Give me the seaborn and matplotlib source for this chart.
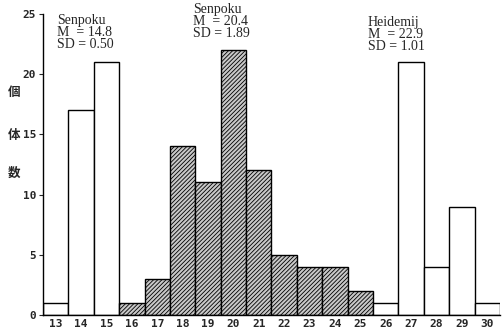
import matplotlib
matplotlib.use("Agg")
import matplotlib.pyplot as plt
import seaborn as sns
import pandas as pd

# Per-class counts of individuals
classes = [13, 14, 15, 16, 17, 18, 19, 20, 21, 22, 23, 24, 25, 26, 27, 28, 29, 30]
counts = [1, 17, 21, 1, 3, 14, 11, 22, 12, 5, 4, 4, 2, 1, 21, 4, 9, 1]
hatched_classes = [16, 17, 18, 19, 20, 21, 22, 23, 24, 25]
y_ticks = [0, 5, 10, 15, 20, 25]
notes = [
    ("Senpoku\nM  = 14.8\nSD = 0.50", 0.05, 25.0),
    ("Senpoku\nM  = 20.4\nSD = 1.89", 5.4, 25.9),
    ("Heidemij\nM  = 22.9\nSD = 1.01", 12.3, 24.8),
]
ylabel_chars = ["個", "体", "数"]

df = pd.DataFrame({"cls": [str(c) for c in classes], "n": counts})

sns.set_style("white")
plt.rcParams["font.family"] = ["DejaVu Sans"]
plt.rcParams["hatch.linewidth"] = 0.6
plt.rcParams["hatch.color"] = "#222222"

fig = plt.figure(figsize=(5.03, 3.30), dpi=100)
ax = fig.add_axes([0.0855, 0.0455, 0.9085, 0.9125])

sns.barplot(data=df, x="cls", y="n", ax=ax, width=1.0, color="white",
            edgecolor="black", linewidth=1.0, saturation=1)

for patch, c in zip(ax.patches, classes):
    patch.set_facecolor("white")
    if c in hatched_classes:
        patch.set_facecolor("#c8c8c8")
        patch.set_hatch("////////")

ax.set_xlim(-0.5, len(classes) - 0.5)
ax.set_ylim(0, 25)
ax.set_yticks(y_ticks)
ax.set_xlabel("")
ax.set_ylabel("")

for side in ["top", "right"]:
    ax.spines[side].set_visible(False)
for side in ["left", "bottom"]:
    ax.spines[side].set_color("black")
    ax.spines[side].set_linewidth(1.0)

ax.tick_params(axis="y", direction="out", length=3, width=0.8, left=True,
               pad=2, labelsize=8)
ax.tick_params(axis="x", length=0, pad=3, labelsize=8)
for lab in ax.get_xticklabels() + ax.get_yticklabels():
    lab.set_fontfamily("DejaVu Sans Mono")
    lab.set_fontweight("bold")

for txt, x, y in notes:
    ax.text(x, y, txt, ha="left", va="top", fontsize=10,
            family="Liberation Serif", linespacing=0.9, clip_on=False)

for ch, yy in zip(ylabel_chars, [0.72, 0.59, 0.475]):
    fig.text(0.028, yy, ch, ha="center", va="center", fontsize=9,
             family=["Noto Sans CJK JP", "DejaVu Sans"], fontweight="bold")

fig.savefig("out.png", dpi=100)
